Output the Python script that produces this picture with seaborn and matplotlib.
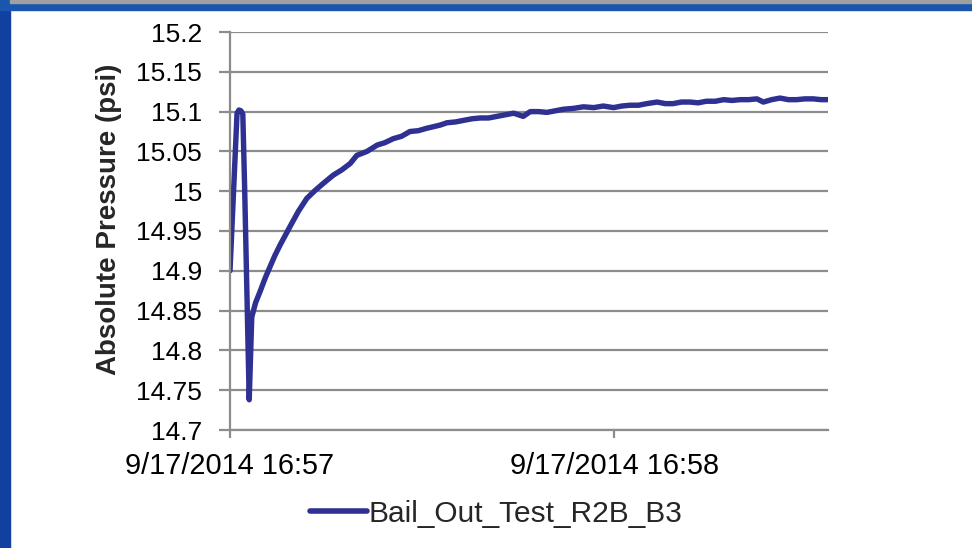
import matplotlib
matplotlib.use("Agg")
import matplotlib.pyplot as plt
import matplotlib.dates as mdates
from matplotlib.patches import Rectangle
import seaborn as sns
import pandas as pd
import numpy as np

# seconds after 9/17/2014 16:57:00
seconds = [0.0, 1.1, 1.4, 1.7, 2.0, 2.3, 3.0, 3.4, 4.0, 4.7, 5.5, 6.3, 7.0, 7.8, 8.6, 9.4,
           10.7, 12.0, 13.3, 14.6, 16.1, 17.5, 18.8, 19.8, 21.4, 23.0, 24.2, 25.5,
           26.8, 28.1, 29.4, 30.7, 32.8, 33.9, 35.2, 36.5, 37.8, 39.1, 40.4, 41.7,
           43.0, 44.3, 45.8, 46.9, 48.2, 49.5, 50.8, 52.1, 53.6, 55.2, 56.8, 58.3,
           59.9, 61.2, 62.5, 63.8, 65.1, 66.7, 68.0, 69.2, 70.5, 71.9, 73.1, 74.4,
           75.8, 77.1, 78.4, 79.7, 81.0, 82.3, 83.3, 84.6, 85.9, 87.2, 88.5, 89.8,
           91.1, 92.3, 93.4]
pressure = [14.900, 15.098, 15.102, 15.101, 15.097, 15.000, 14.738, 14.842, 14.860, 14.874,
            14.891, 14.906, 14.919, 14.932, 14.944, 14.956, 14.975, 14.991, 15.001,
            15.010, 15.020, 15.027, 15.035, 15.045, 15.050, 15.058, 15.061, 15.066,
            15.069, 15.075, 15.076, 15.079, 15.083, 15.086, 15.087, 15.089, 15.091,
            15.092, 15.092, 15.094, 15.096, 15.098, 15.094, 15.100, 15.100, 15.099,
            15.101, 15.103, 15.104, 15.106, 15.105, 15.107, 15.105, 15.107, 15.108,
            15.108, 15.110, 15.112, 15.110, 15.110, 15.112, 15.112, 15.111, 15.113,
            15.113, 15.115, 15.114, 15.115, 15.115, 15.116, 15.112, 15.115, 15.117,
            15.115, 15.115, 15.116, 15.116, 15.115, 15.115]
series_name = "Bail_Out_Test_R2B_B3"
y_ticks = [14.7, 14.75, 14.8, 14.85, 14.9, 14.95, 15.0, 15.05, 15.1, 15.15, 15.2]
ylabel = "Absolute Pressure (psi)"

start = pd.Timestamp("2014-09-17 16:57:00")
df = pd.DataFrame({
    "time": start + pd.to_timedelta(seconds, unit="s"),
    "pressure": pressure,
    "series": series_name,
})

sns.set_theme(style="white")
plt.rcParams["font.family"] = ["Liberation Sans", "DejaVu Sans"]

fig = plt.figure(figsize=(9.72, 5.48), dpi=100)
ax = fig.add_axes([230 / 972, 118 / 548, 598 / 972, 398 / 548])

line_color = "#2e3192"
grid_color = "#8c8c8c"

sns.lineplot(data=df, x="time", y="pressure", hue="series", palette=[line_color],
             linewidth=3.9, ax=ax, legend=True)
for ln in ax.get_lines():
    ln.set_solid_joinstyle("round")
    ln.set_solid_capstyle("round")

ax.set_xlim(start, start + pd.Timedelta(seconds=93.4))
ax.set_ylim(14.7, 15.2)
ax.set_yticks(y_ticks)
ax.yaxis.set_major_formatter(matplotlib.ticker.FuncFormatter(lambda v, p: f"{v:g}"))
ticks = [start, start + pd.Timedelta(minutes=1)]
ax.set_xticks([mdates.date2num(t) for t in ticks])
ax.set_xticklabels([f"{t.month}/{t.day}/{t.year} {t:%H:%M}" for t in ticks])

ax.grid(axis="y", color=grid_color, linewidth=1.6)
ax.grid(axis="x", visible=False)
for s in ["top", "right"]:
    ax.spines[s].set_visible(False)
for s in ["left", "bottom"]:
    ax.spines[s].set_color(grid_color)
    ax.spines[s].set_linewidth(1.6)

ax.tick_params(axis="y", direction="out", length=8, width=1.6, color=grid_color,
               labelsize=19, pad=12, labelcolor="black")
ax.tick_params(axis="x", direction="out", length=6, width=1.6, color=grid_color,
               labelsize=20.8, pad=10, labelcolor="black")
ax.tick_params(left=True, bottom=True)

ax.set_xlabel("")
ax.set_ylabel(ylabel, fontsize=20, fontweight="bold")
ax.yaxis.set_label_coords(-0.18, 0.53)

leg = ax.legend(loc="center", bbox_to_anchor=(0.445, -0.21), frameon=False,
                fontsize=21.5, handlelength=1.9, handletextpad=0.05, borderaxespad=0)
for h in leg.get_lines():
    h.set_linewidth(4)
    h.set_solid_capstyle("round")

# slide frame: blue left strip, top band
fig.patches.append(Rectangle((0, 0), 10 / 972, 1, transform=fig.transFigure,
                             color="#1040a0", zorder=0))
fig.patches.append(Rectangle((0, 1 - 10 / 548), 1, 10 / 548, transform=fig.transFigure,
                             color="#1a56ae", zorder=0))
fig.patches.append(Rectangle((10 / 972, 1 - 3 / 548), 1, 3 / 548, transform=fig.transFigure,
                             color="#a0a0a0", zorder=1))

fig.savefig("out.png", dpi=100)
